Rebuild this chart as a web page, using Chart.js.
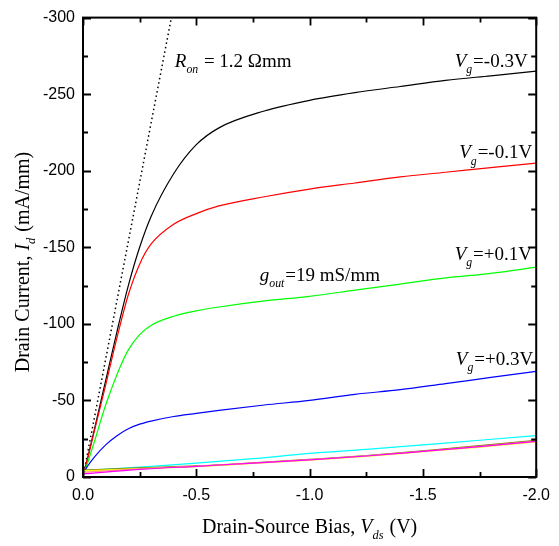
<!DOCTYPE html>
<html>
<head>
<meta charset="utf-8">
<script src="https://cdn.jsdelivr.net/npm/chart.js@4.4.0/dist/chart.umd.min.js"></script>
<style>
html,body{margin:0;padding:0;background:#fff;}
#wrap{width:559px;height:546px;}
</style>
</head>
<body>
<div id="wrap"><canvas id="c" width="559" height="546"></canvas></div>
<script>
// ---- data ----
const vds = [0, -0.02, -0.05, -0.1, -0.15, -0.2, -0.25, -0.3, -0.4, -0.5, -0.6, -0.8, -1.0, -1.2, -1.4, -1.6, -1.8, -2.0];
const idVgM03 = [0, -12, -31, -63, -95, -125, -150, -170, -198, -217, -228, -239, -246, -251, -255, -259, -262, -265];
const idVgM01 = [0, -12, -30, -60, -91, -119, -139, -152, -165, -172, -177, -183, -188, -192, -196, -199, -202, -205];
const idVgP01 = [0, -9, -23, -47, -67, -83, -93, -99, -105, -108.5, -111, -115, -118, -122, -126, -130, -133, -137];
const idVgP03 = [-2, -7, -13, -21, -27, -31.5, -34.5, -36.5, -39.5, -41.5, -43.5, -47, -50, -54, -57, -61, -65, -69];

const vdsLow = [0, -0.25, -0.5, -0.75, -1.0, -1.25, -1.5, -1.75, -2.0];
const idCyan    = [-4, -6.5, -9, -12, -15.4, -18, -21, -24, -27];
const idMagenta = [-2, -5, -7, -9, -11.2, -13.7, -16.7, -19.8, -23.3];
const idPink    = [-3, -5.3, -7, -9, -11.3, -13.8, -16.8, -20, -23.5];
const idYellow  = [-4, -5.5, -6.8, -8.8, -11, -13.5, -16.5, -19.5, -23];
const idOlive   = [-4.5, -6, -7.2, -9.2, -11.5, -14, -17, -20.5, -24];

const ronVds = [0, -0.39];
const ronId  = [0, -300];

const xMajorTicks = [0, -0.5, -1.0, -1.5, -2.0];
const xMinorTicks = [-0.25, -0.75, -1.25, -1.75];
const yMajorTicks = [0, -50, -100, -150, -200, -250, -300];
const yMinorTicks = [-25, -75, -125, -175, -225, -275];

// annotation anchors in data coordinates
const notes = [
  {x: -0.405, y: -268, parts: [['R', 'i'], ['on', 'is'], [' = 1.2 \u03A9mm', '']]},
  {x: -1.64, y: -267.5, parts: [['V', 'i'], ['g', 'is'], ['=-0.3V', '']]},
  {x: -1.66, y: -208, parts: [['V', 'i'], ['g', 'is'], ['=-0.1V', '']]},
  {x: -1.64, y: -142, parts: [['V', 'i'], ['g', 'is'], ['=+0.1V', '']]},
  {x: -1.645, y: -73, parts: [['V', 'i'], ['g', 'is'], ['=+0.3V', '']]},
  {x: -0.78, y: -128, parts: [['g', 'i'], ['out', 'is'], ['=19 mS/mm', '']]}
];

const pts = (xs, ys) => xs.map((v, i) => ({x: v, y: ys[i]}));
const SERIF = '"Liberation Serif", "Times New Roman", serif';

function drawRich(ctx, x, y, parts, size) {
  let cx = x;
  parts.forEach(([t, st]) => {
    const it = st.includes('i');
    const sub = st.includes('s');
    const fs = sub ? size * 0.62 : size;
    ctx.font = (it ? 'italic ' : '') + fs + 'px ' + SERIF;
    ctx.fillText(t, cx, y + (sub ? size * 0.32 : 0));
    cx += ctx.measureText(t).width + (sub ? 1 : 0);
  });
  return cx - x;
}
function richWidth(ctx, parts, size) {
  let w = 0;
  parts.forEach(([t, st]) => {
    const it = st.includes('i');
    const sub = st.includes('s');
    const fs = sub ? size * 0.62 : size;
    ctx.font = (it ? 'italic ' : '') + fs + 'px ' + SERIF;
    w += ctx.measureText(t).width + (sub ? 1 : 0);
  });
  return w;
}

const decor = {
  id: 'decor',
  afterDatasetsDraw(chart) {
    const ctx = chart.ctx;
    const ca = chart.chartArea;
    const left = ca.left, right = ca.right, top = ca.top, bottom = ca.bottom;
    const x = chart.scales.x, y = chart.scales.y;
    ctx.save();
    ctx.setLineDash([]);
    ctx.globalAlpha = 1;
    ctx.strokeStyle = '#000000';
    ctx.lineCap = 'butt';
    ctx.lineWidth = 1.8;
    for (const v of xMajorTicks) {
      const p = Math.round(x.getPixelForValue(v)) + 0.5;
      ctx.beginPath(); ctx.moveTo(p, bottom); ctx.lineTo(p, bottom - 8); ctx.moveTo(p, top); ctx.lineTo(p, top + 8); ctx.stroke();
    }
    for (const v of xMinorTicks) {
      const p = Math.round(x.getPixelForValue(v)) + 0.5;
      ctx.beginPath(); ctx.moveTo(p, bottom); ctx.lineTo(p, bottom - 5); ctx.moveTo(p, top); ctx.lineTo(p, top + 5); ctx.stroke();
    }
    for (const v of yMajorTicks) {
      const p = Math.round(y.getPixelForValue(v)) + 0.5;
      ctx.beginPath(); ctx.moveTo(left, p); ctx.lineTo(left + 8, p); ctx.moveTo(right, p); ctx.lineTo(right - 8, p); ctx.stroke();
    }
    for (const v of yMinorTicks) {
      const p = Math.round(y.getPixelForValue(v)) + 0.5;
      ctx.beginPath(); ctx.moveTo(left, p); ctx.lineTo(left + 5, p); ctx.moveTo(right, p); ctx.lineTo(right - 5, p); ctx.stroke();
    }
    ctx.lineWidth = 2;
    ctx.strokeRect(left, top, right - left, bottom - top);

    ctx.fillStyle = '#000';
    ctx.textBaseline = 'alphabetic';
    ctx.textAlign = 'left';
    notes.forEach(n => drawRich(ctx, x.getPixelForValue(n.x), y.getPixelForValue(n.y), n.parts, 19));

    // axis titles
    const xt = [['Drain-Source Bias, ', ''], ['V', 'i'], ['ds', 'is'], [' (V)', '']];
    const wx = richWidth(ctx, xt, 20);
    drawRich(ctx, (left + right) / 2 - wx / 2, 533, xt, 20);

    const yt = [['Drain Current, ', ''], ['I', 'i'], ['d', 'is'], [' (mA/mm)', '']];
    const wy = richWidth(ctx, yt, 20);
    ctx.translate(29, 262);
    ctx.rotate(-Math.PI / 2);
    drawRich(ctx, -wy / 2, 0, yt, 20);
    ctx.restore();
  }
};

const mk = (data, color, extra) => Object.assign({
  data, borderColor: color, backgroundColor: color, borderWidth: 1.2,
  pointRadius: 0, fill: false, cubicInterpolationMode: 'monotone'
}, extra || {});

new Chart(document.getElementById('c'), {
  type: 'line',
  data: {
    datasets: [
      mk(pts(vdsLow, idMagenta), '#ff00ff'),
      mk(pts(vdsLow, idPink), '#ff9080'),
      mk(pts(vdsLow, idYellow), '#ffff00'),
      mk(pts(vdsLow, idOlive), '#808000'),
      mk(pts(vdsLow, idCyan), '#00ffff'),
      mk(pts(vds, idVgP03), '#0000ff'),
      mk(pts(vds, idVgP01), '#00ff00'),
      mk(pts(vds, idVgM01), '#ff0000'),
      mk(pts(vds, idVgM03), '#000000'),
      mk(pts(ronVds, ronId), '#000000', {borderDash: [1.5, 3], borderWidth: 1.5, cubicInterpolationMode: 'default', tension: 0})
    ]
  },
  options: {
    responsive: false,
    animation: false,
    events: [],
    layout: {padding: {top: 15, right: 14, left: 0, bottom: 0}},
    plugins: {legend: {display: false}, tooltip: {enabled: false}},
    scales: {
      x: {
        type: 'linear', min: -2, max: 0, reverse: true,
        grid: {display: false, drawTicks: false},
        border: {display: false},
        ticks: {
          stepSize: 0.5, padding: 9, color: '#000',
          font: {family: '"Liberation Sans", Arial, sans-serif', size: 16},
          callback: v => v.toFixed(1)
        },
        afterFit: s => { s.height = 69; }
      },
      y: {
        type: 'linear', min: -300, max: 0, reverse: true,
        grid: {display: false, drawTicks: false},
        border: {display: false},
        ticks: {
          stepSize: 50, padding: 8, color: '#000',
          font: {family: '"Liberation Sans", Arial, sans-serif', size: 16},
          callback: v => (v === 0 ? '0' : String(v))
        },
        afterFit: s => { s.width = 83; }
      }
    }
  },
  plugins: [decor]
});
</script>
</body>
</html>
